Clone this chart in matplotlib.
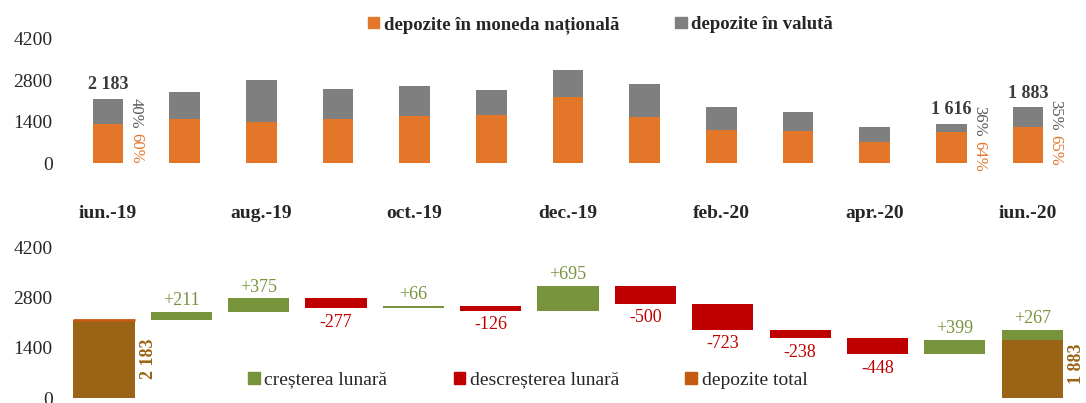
import matplotlib
matplotlib.use("Agg")
import matplotlib.pyplot as plt
import matplotlib.patches as mpatches
import numpy as np

plt.rcParams["font.family"] = ["Liberation Serif", "DejaVu Serif"]

# ── Colors ────────────────────────────────────────────────────────────────────
ORANGE = "#E4762A"
GREY = "#7F7F7F"
GREEN = "#77933C"
RED = "#C00000"
BROWN = "#9A6416"
BROWN_LEG = "#C55A11"
TEXT = "#262626"

# ── Data: top chart (deposits by currency, mil. lei) ─────────────────────────
months = ["iun.-19", "iul.-19", "aug.-19", "sep.-19", "oct.-19", "nov.-19", "dec.-19",
          "ian.-20", "feb.-20", "mar.-20", "apr.-20", "mai.-20", "iun.-20"]
national = [1310, 1500, 1400, 1500, 1605, 1640, 2250, 1570, 1130, 1090, 720, 1034, 1224]
foreign = [873, 890, 1400, 990, 990, 820, 890, 1090, 780, 620, 510, 300, 659]

# labelled bars: index, total label, foreign share, national share
label_idx = [0, 11, 12]
label_total = ["2 183", "1 616", "1 883"]
label_foreign = ["40%", "36%", "35%"]
label_national = ["60%", "64%", "65%"]

# ── Data: bottom chart (waterfall of monthly changes) ────────────────────────
start_total = 2183
end_total = 1883
changes = [211, 375, -277, 66, -126, 695, -500, -723, -238, -448, 399, 267]

yticks = [0, 1400, 2800, 4200]

# ── Figure ────────────────────────────────────────────────────────────────────
fig = plt.figure(figsize=(10.86, 4.03), dpi=100)
ax1 = fig.add_axes([65 / 1086, 0.5955, 1005 / 1086, 0.3152])
ax2 = fig.add_axes([65 / 1086, 0.0124, 1005 / 1086, 0.3836])

# ── Top: stacked bars ────────────────────────────────────────────────────────
x = np.arange(len(months))
ax1.bar(x, national, width=0.40, color=ORANGE, zorder=2)
ax1.bar(x, foreign, width=0.40, bottom=national, color=GREY, zorder=2)

for i, tot, pf, pn in zip(label_idx, label_total, label_foreign, label_national):
    top = national[i] + foreign[i]
    ax1.annotate(tot, (x[i], top), xytext=(0, 4), textcoords="offset points",
                 ha="center", va="bottom", fontsize=13, fontweight="bold", color="#3a3a3a")
    # foreign share ends just below the split, national share starts a bit lower
    ax1.annotate(pf, (x[i] + 0.2, national[i]), xytext=(9, -3),
                 textcoords="offset points", ha="center", va="bottom",
                 rotation=-90, fontsize=12, color="#595959")
    ax1.annotate(pn, (x[i] + 0.2, national[i]), xytext=(9, -6),
                 textcoords="offset points", ha="center", va="top",
                 rotation=-90, fontsize=12, color=ORANGE)

ax1.set_xlim(-0.56, 12.55)
ax1.set_ylim(0, 4300)
ax1.set_yticks(yticks)
ax1.set_yticklabels([str(t) for t in yticks], fontsize=14, color=TEXT)
ax1.set_xticks(x[::2])
ax1.set_xticklabels(months[::2], fontsize=14, fontweight="bold", color=TEXT)
ax1.tick_params(axis="y", length=0, pad=9)
ax1.tick_params(axis="x", length=0, pad=30)

# ── Bottom: waterfall ────────────────────────────────────────────────────────
levels = np.concatenate([[start_total], start_total + np.cumsum(changes)])
pos = np.arange(1, len(changes) + 1)
bottoms = np.minimum(levels[:-1], levels[1:])
heights = np.abs(changes)
colors = [GREEN if c > 0 else RED for c in changes]

ax2.bar([0, len(changes)], [start_total, end_total], width=0.79, color=BROWN, zorder=2)
ax2.hlines(start_total, -0.395, 0.395, color=BROWN_LEG, linewidth=2, zorder=3)
ax2.bar(pos, heights, bottom=bottoms, width=0.79, color=colors, zorder=3)

for p, c, b, h in zip(pos, changes, bottoms, heights):
    if c > 0:
        ax2.annotate(f"+{c}", (p, b + h), xytext=(0, 2), textcoords="offset points",
                     ha="center", va="bottom", fontsize=13, color=GREEN)
    else:
        ax2.annotate(f"-{abs(c)}", (p, b), xytext=(0, -4), textcoords="offset points",
                     ha="center", va="top", fontsize=13, color=RED)

for p, tot in zip([0, len(changes)], [start_total, end_total]):
    ax2.annotate(f"{tot // 1000} {tot % 1000:03d}", (p + 0.395, tot / 2), xytext=(10, 0),
                 textcoords="offset points", ha="center", va="center",
                 rotation=90, fontsize=13, fontweight="bold", color=BROWN)

ax2.set_xlim(-0.504, 12.49)
ax2.set_ylim(0, 4300)
ax2.set_yticks(yticks)
ax2.set_yticklabels([str(t) for t in yticks], fontsize=14, color=TEXT)
ax2.set_xticks([])
ax2.tick_params(axis="y", length=0, pad=9)

for ax in (ax1, ax2):
    for side in ["top", "right", "left", "bottom"]:
        ax.spines[side].set_visible(False)

# ── Legends ──────────────────────────────────────────────────────────────────
top_handles = [mpatches.Patch(color=ORANGE, label="depozite în moneda națională"),
               mpatches.Patch(color=GREY, label="depozite în valută")]
fig.legend(handles=top_handles, loc="center", bbox_to_anchor=(0.553, 0.938), ncol=2,
           frameon=False, handlelength=0.6, handleheight=0.6, handletextpad=0.25,
           columnspacing=3.0, prop={"size": 13.5, "weight": "bold"}, labelcolor=TEXT)

bot_handles = [mpatches.Patch(color=GREEN, label="creșterea lunară"),
               mpatches.Patch(color=RED, label="descreșterea lunară"),
               mpatches.Patch(color=BROWN_LEG, label="depozite total")]
fig.legend(handles=bot_handles, loc="center", bbox_to_anchor=(0.486, 0.057), ncol=3,
           frameon=False, handlelength=0.6, handleheight=0.6, handletextpad=0.25,
           columnspacing=3.4, prop={"size": 14}, labelcolor=TEXT)

fig.savefig("out.png", dpi=100, facecolor="white")
